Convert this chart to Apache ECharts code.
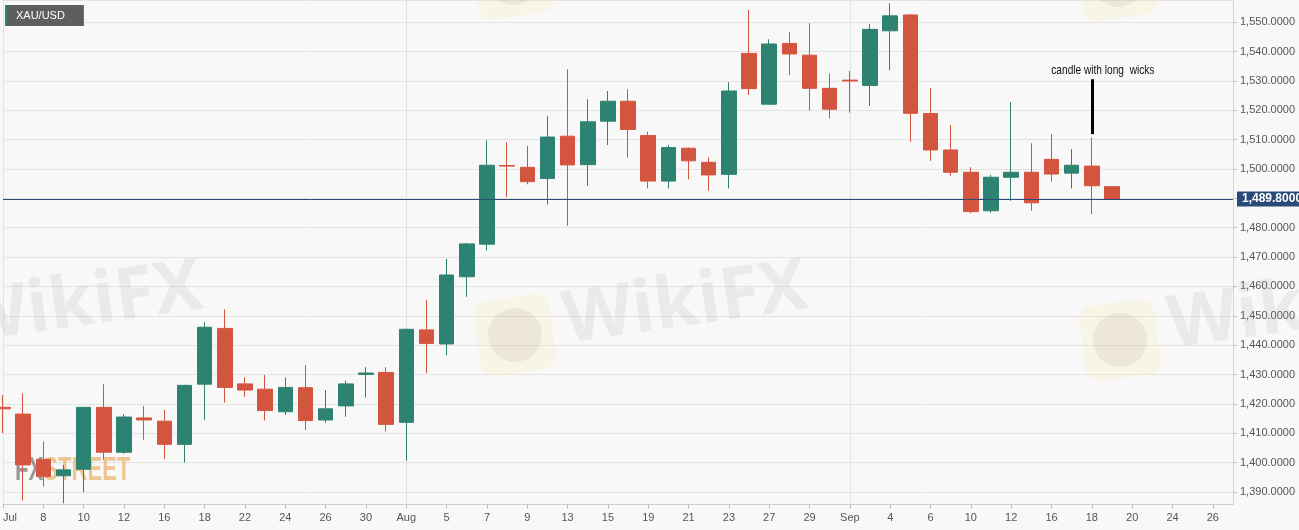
<!DOCTYPE html>
<html>
<head>
<meta charset="utf-8">
<title>XAU/USD</title>
<script src="https://cdn.jsdelivr.net/npm/echarts@6.0.0/dist/echarts.min.js"></script>
<style>
  html, body { margin: 0; padding: 0; background: #f8f8f8; }
  #chart { width: 1299px; height: 530px; }
</style>
</head>
<body>
<div id="chart"></div>
<script>
// trading days shown on the axis (the last ones are still empty)
const dates = [
    'Jul 4', 'Jul 5', 'Jul 8', 'Jul 9', 'Jul 10', 'Jul 11', 'Jul 12', 'Jul 15', 'Jul 16', 'Jul 17',
    'Jul 18', 'Jul 19', 'Jul 22', 'Jul 23', 'Jul 24', 'Jul 25', 'Jul 26', 'Jul 29', 'Jul 30', 'Jul 31',
    'Aug 1', 'Aug 2', 'Aug 5', 'Aug 6', 'Aug 7', 'Aug 8', 'Aug 9', 'Aug 12', 'Aug 13', 'Aug 14',
    'Aug 15', 'Aug 16', 'Aug 19', 'Aug 20', 'Aug 21', 'Aug 22', 'Aug 23', 'Aug 26', 'Aug 27', 'Aug 28',
    'Aug 29', 'Aug 30', 'Sep 2', 'Sep 3', 'Sep 4', 'Sep 5', 'Sep 6', 'Sep 9', 'Sep 10', 'Sep 11',
    'Sep 12', 'Sep 13', 'Sep 16', 'Sep 17', 'Sep 18', 'Sep 19', 'Sep 20', 'Sep 23', 'Sep 24', 'Sep 25',
    'Sep 26', 'Sep 27'
]

// [open, close, low, high]
const ohlc = [
    [1418.8, 1418.3, 1410.0, 1423.0],
    [1416.5, 1399.2, 1387.0, 1423.6],
    [1401.1, 1395.2, 1391.8, 1407.2],
    [1395.5, 1397.5, 1386.1, 1399.2],
    [1397.7, 1418.8, 1389.9, 1419.0],
    [1418.8, 1403.5, 1400.9, 1426.7],
    [1403.5, 1415.5, 1403.0, 1416.5],
    [1415.2, 1414.5, 1407.7, 1419.3],
    [1414.1, 1406.2, 1401.2, 1417.9],
    [1406.2, 1426.3, 1400.0, 1426.5],
    [1426.7, 1446.1, 1414.5, 1447.8],
    [1445.7, 1425.6, 1420.4, 1452.2],
    [1426.8, 1424.7, 1422.4, 1429.0],
    [1425.0, 1417.7, 1414.3, 1429.8],
    [1417.3, 1425.6, 1416.2, 1429.0],
    [1425.5, 1414.3, 1411.1, 1433.2],
    [1414.5, 1418.3, 1413.6, 1424.7],
    [1419.3, 1426.8, 1415.6, 1427.9],
    [1430.0, 1430.5, 1422.1, 1432.5],
    [1430.7, 1413.0, 1410.5, 1432.5],
    [1413.7, 1445.4, 1400.6, 1445.6],
    [1445.2, 1440.6, 1430.4, 1455.4],
    [1440.4, 1463.9, 1436.6, 1469.4],
    [1463.3, 1474.5, 1456.5, 1474.9],
    [1474.4, 1501.3, 1472.2, 1509.8],
    [1501.2, 1501.0, 1490.4, 1509.2],
    [1500.6, 1495.7, 1494.8, 1507.9],
    [1496.8, 1510.9, 1487.9, 1518.1],
    [1511.2, 1501.4, 1480.7, 1534.0],
    [1501.5, 1516.1, 1494.3, 1523.8],
    [1516.3, 1523.1, 1508.2, 1526.6],
    [1523.1, 1513.5, 1503.9, 1527.2],
    [1511.4, 1495.9, 1493.4, 1512.7],
    [1495.9, 1507.3, 1493.4, 1508.2],
    [1507.1, 1502.8, 1496.5, 1507.4],
    [1502.3, 1498.0, 1492.6, 1504.0],
    [1498.2, 1526.6, 1493.4, 1529.6],
    [1539.4, 1527.4, 1525.2, 1554.2],
    [1522.1, 1542.6, 1522.0, 1544.2],
    [1542.8, 1539.2, 1532.0, 1546.7],
    [1538.8, 1527.5, 1519.9, 1549.7],
    [1527.5, 1520.4, 1517.2, 1532.6],
    [1530.3, 1530.0, 1519.2, 1533.4],
    [1528.5, 1547.6, 1521.5, 1549.4],
    [1547.1, 1552.2, 1533.7, 1556.5],
    [1552.5, 1519.0, 1509.3, 1552.8],
    [1518.9, 1506.5, 1502.8, 1527.6],
    [1506.5, 1498.9, 1497.7, 1515.0],
    [1498.9, 1485.5, 1484.9, 1500.6],
    [1485.8, 1497.2, 1485.1, 1498.0],
    [1497.2, 1498.9, 1489.2, 1522.8],
    [1498.9, 1488.5, 1485.8, 1508.8],
    [1503.3, 1498.3, 1495.7, 1511.9],
    [1498.6, 1501.3, 1493.4, 1506.8],
    [1501.0, 1494.3, 1484.6, 1510.8],
    [1494.0, 1489.8, 1489.8, 1494.0]
]

const symbolName = 'XAU/USD'
const lastPrice = 1489.8
const priceRange = [1385.7, 1557.6]
const noteText = 'candle with long  wicks'
const noteDay = 'Sep 18'
const noteLine = [1530.6, 1511.9]
const noteTextAt = 1533.5

const UP = '#2e8271'
const DOWN = '#d4553f'
const PRICE_LINE = '#284a78'

const fmtPrice = function (v) {
    return v.toLocaleString('en-US', {minimumFractionDigits: 4, maximumFractionDigits: 4})
}

// month name on the first day of a month, the day number otherwise
const dayLabel = function (value, index) {
    const [mon, day] = value.split(' ')
    if (index === 0 || dates[index - 1].split(' ')[0] !== mon) {
        return mon
    }
    return day
}

const monthStart = function (index) {
    return index === 0 || dates[index].split(' ')[0] !== dates[index - 1].split(' ')[0]
}

const watermark = function (x, y, withText) {
    const children = [
        {
            type: 'rect',
            shape: {x: -38, y: -38, width: 76, height: 76, r: 14},
            style: {fill: 'rgba(250, 228, 160, 0.2)'},
            z: 1
        },
        {
            type: 'circle',
            shape: {cx: 0, cy: 0, r: 27},
            style: {fill: 'rgba(165, 150, 150, 0.13)'},
            z: 1
        }
    ]
    if (withText) {
        children.push({
            type: 'text',
            x: 50,
            y: -6,
            style: {
                text: 'WikiFX',
                fontSize: 72,
                fontWeight: 'bold',
                fontFamily: 'Open Sans, Liberation Sans, sans-serif',
                fill: 'rgba(165, 150, 150, 0.15)',
                verticalAlign: 'middle'
            },
            z: 1
        })
    }
    return {type: 'group', x: x, y: y, rotation: 0.14, silent: true, children: children}
}

const chart = echarts.init(document.getElementById('chart'))

chart.setOption({
    backgroundColor: '#f8f8f8',
    animation: false,
    title: {
        text: symbolName,
        left: 7,
        top: 5,
        padding: [4, 19, 4, 9],
        backgroundColor: '#5e5e5e',
        textStyle: {
            color: '#fff',
            fontSize: 11,
            fontWeight: 'normal',
            fontFamily: 'Liberation Sans, Arial, sans-serif',
            lineHeight: 13
        }
    },
    grid: {
        left: 0,
        right: 66,
        top: 0,
        bottom: 25.5,
        show: true,
        backgroundColor: '#f8f8f8',
        borderWidth: 0
    },
    xAxis: {
        type: 'category',
        data: dates,
        boundaryGap: false,
        axisLine: {lineStyle: {color: '#cfcfcf'}},
        axisTick: {interval: 1, length: 4, lineStyle: {color: '#bdbdbd'}},
        axisLabel: {
            interval: 1,
            margin: 8,
            color: '#555',
            fontSize: 11,
            fontFamily: 'Liberation Sans, Arial, sans-serif',
            alignMinLabel: 'left',
            formatter: dayLabel
        },
        splitLine: {
            show: true,
            interval: monthStart,
            lineStyle: {color: '#e3e3e3'}
        }
    },
    yAxis: {
        type: 'value',
        position: 'right',
        scale: true,
        min: priceRange[0],
        max: priceRange[1],
        splitNumber: 17,
        minInterval: 10,
        maxInterval: 10,
        axisLine: {show: true, lineStyle: {color: '#d6d6d6'}},
        axisTick: {show: true, length: 4, lineStyle: {color: '#bdbdbd'}},
        axisLabel: {
            margin: 7,
            color: '#555',
            fontSize: 11,
            fontFamily: 'Liberation Sans, Arial, sans-serif',
            showMinLabel: false,
            showMaxLabel: false,
            formatter: fmtPrice
        },
        splitLine: {lineStyle: {color: '#e3e3e3'}}
    },
    series: [
        {
            type: 'candlestick',
            name: symbolName,
            data: ohlc,
            barWidth: 15,
            itemStyle: {
                color: UP,
                color0: DOWN,
                borderColor: UP,
                borderColor0: DOWN,
                borderWidth: 1
            },
            markLine: {
                silent: true,
                symbol: 'none',
                animation: false,
                data: [
                    {
                        yAxis: lastPrice,
                        lineStyle: {color: PRICE_LINE, width: 1, type: 'solid'},
                        label: {
                            show: true,
                            position: 'end',
                            distance: 4,
                            formatter: fmtPrice(lastPrice),
                            color: '#fff',
                            fontWeight: 'bold',
                            fontSize: 12,
                            fontFamily: 'Liberation Sans, Arial, sans-serif',
                            backgroundColor: PRICE_LINE,
                            padding: [2, 5, 1, 5]
                        }
                    },
                    [
                        {coord: [noteDay, noteLine[0]], lineStyle: {color: '#000', width: 3, type: 'solid'}, label: {show: false}},
                        {coord: [noteDay, noteLine[1]]}
                    ]
                ]
            }
        }
    ]
})

// note text sits next to the marked candle; it is placed from the axes
const notePos = chart.convertToPixel({gridIndex: 0}, [noteDay, noteTextAt])

chart.setOption({
    graphic: [
        watermark(-90, 335, true),
        watermark(515, 335, true),
        watermark(1120, 340, true),
        watermark(513, -22, false),
        watermark(1118, -20, false),
        {
            type: 'text',
            x: 15,
            y: 471,
            scaleX: 0.67,
            silent: true,
            z: 1,
            style: {
                text: '{a|FX}{b|STREET}',
                verticalAlign: 'middle',
                rich: {
                    a: {fill: 'rgba(120, 120, 120, 0.75)', fontSize: 33, fontWeight: 'bold',
                        fontFamily: 'Liberation Sans, sans-serif'},
                    b: {fill: 'rgba(232, 180, 110, 0.75)', fontSize: 33, fontWeight: 'bold',
                        fontFamily: 'Liberation Sans, sans-serif'}
                }
            }
        },
        {
            type: 'rect',
            shape: {x: 5, y: 5, width: 2, height: 21},
            style: {fill: UP},
            z: 100
        },
        {
            type: 'text',
            x: notePos[0] + 11,
            y: notePos[1],
            scaleX: 0.78,
            silent: true,
            z: 100,
            style: {
                text: noteText,
                fill: '#111',
                fontSize: 13,
                fontFamily: 'Liberation Sans, Arial, sans-serif',
                align: 'center',
                verticalAlign: 'middle'
            }
        }
    ]
})
</script>
</body>
</html>
